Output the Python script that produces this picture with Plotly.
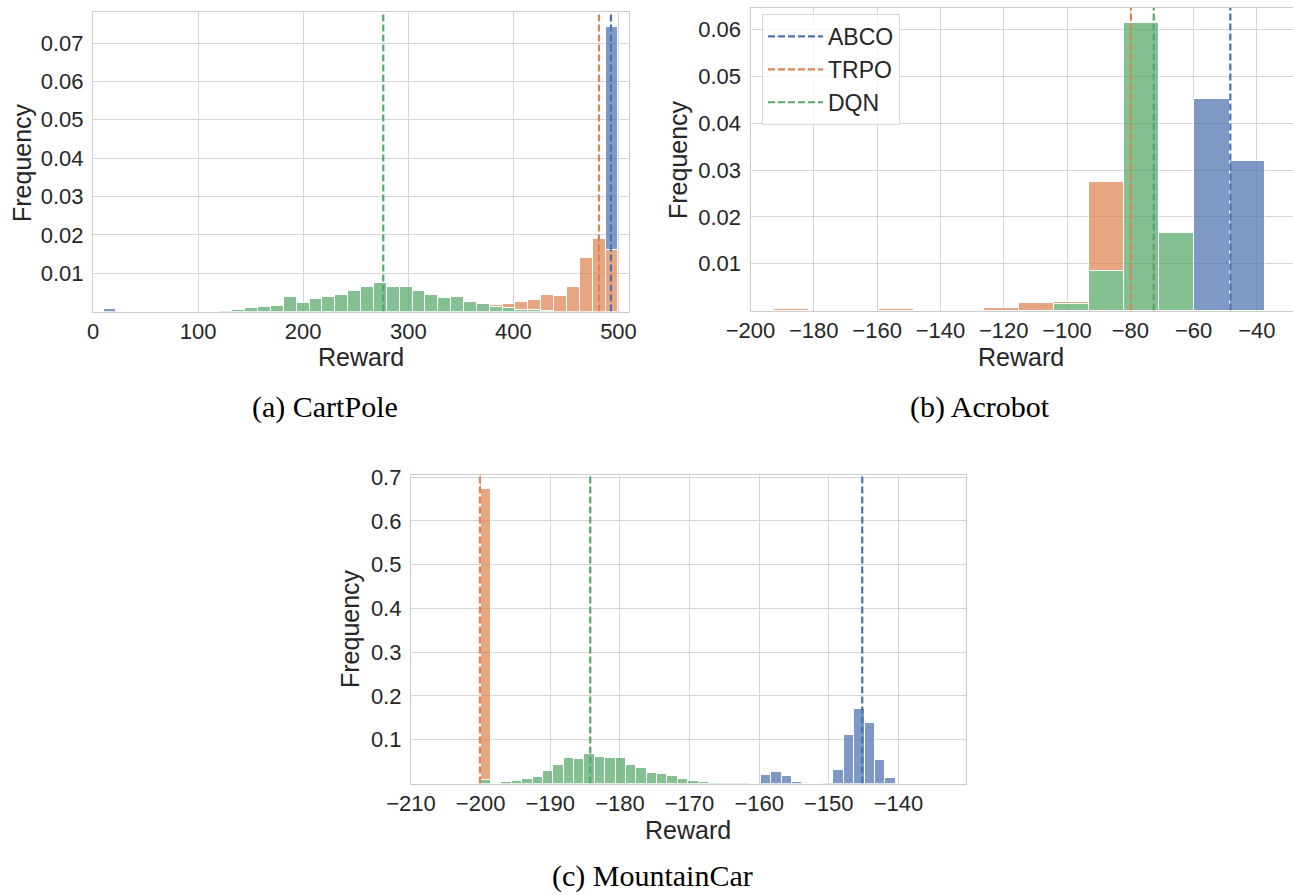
import plotly.graph_objects as go

W, H = 1293, 895

# ---------------- data ----------------
methods = ["ABCO", "TRPO", "DQN"]
line_colors = {"ABCO": "#4c72b0", "TRPO": "#dd8452", "DQN": "#55a868"}
bar_colors = {"ABCO": "rgba(76,114,176,0.72)", "TRPO": "rgba(221,132,82,0.72)",
              "DQN": "rgba(85,168,104,0.72)"}

# CartPole: 40 bins, left edge 10, width 12.25
cp_bin_start, cp_bin_width = 10.0, 12.25
cp_dqn = [0, 0, 0, 0, 0, 0, 0, 0, 0, 0.0001,
          0.0005, 0.0009, 0.0013, 0.0014, 0.0037, 0.0021, 0.0032, 0.0037, 0.0043, 0.0053,
          0.0065, 0.0075, 0.0063, 0.0063, 0.0053, 0.0042, 0.0035, 0.0039, 0.0026, 0.0020,
          0.0012, 0.0008, 0.0004, 0.0004, 0.0001, 0, 0, 0, 0, 0]
cp_trpo = [0] * 29 + [0.0002, 0.0006, 0.0011, 0.0021, 0.0025, 0.0041, 0.0041, 0.0065,
                      0.0139, 0.0190, 0.0160]
cp_abco = [0.0007] + [0] * 38 + [0.0583]
cp_means = {"ABCO": 492.8, "TRPO": 481.4, "DQN": 276.2}

# Acrobot: 15 bins, left edge -203.8, width 11.07
ac_bin_start, ac_bin_width = -203.8, 11.07
ac_dqn = [0, 0, 0, 0, 0, 0, 0, 0, 0, 0.0016, 0.0085, 0.0615, 0.0167, 0, 0]
ac_trpo = [0.0002, 0.0004, 0, 0, 0.0004, 0, 0.0002, 0.0007, 0.0017, 0.0004, 0.0190, 0, 0, 0, 0]
ac_abco = [0, 0, 0, 0, 0, 0, 0, 0, 0, 0, 0, 0, 0, 0.0452, 0.0321]
ac_means = {"ABCO": -48.4, "TRPO": -79.8, "DQN": -72.6}

# MountainCar: 40 bins, left edge -200, width 1.49
mc_bin_start, mc_bin_width = -200.0, 1.49
mc_dqn = [0.009, 0, 0.0023, 0.0053, 0.0098, 0.016, 0.028, 0.0417, 0.058, 0.057,
          0.068, 0.061, 0.059, 0.059, 0.043, 0.0356, 0.0235, 0.021, 0.0174, 0.0098,
          0.0053, 0.003, 0.002, 0.0015, 0.001, 0.0005, 0, 0, 0, 0,
          0, 0, 0, 0, 0, 0, 0, 0, 0, 0]
mc_trpo = [0.663] + [0] * 39
mc_abco = [0] * 27 + [0.0205, 0.0265, 0.0174, 0.003, 0, 0, 0.001, 0.031, 0.1106,
                      0.171, 0.138, 0.053, 0.0136]
mc_means = {"ABCO": -145.2, "TRPO": -200.1, "DQN": -184.26}

cp_xticks = [0, 100, 200, 300, 400, 500]
cp_yticks = [0.01, 0.02, 0.03, 0.04, 0.05, 0.06, 0.07]
ac_xticks = [-200, -180, -160, -140, -120, -100, -80, -60, -40]
ac_yticks = [0.01, 0.02, 0.03, 0.04, 0.05, 0.06]
mc_xticks = [-210, -200, -190, -180, -170, -160, -150, -140]
mc_yticks = [0.1, 0.2, 0.3, 0.4, 0.5, 0.6, 0.7]

captions = ["(a) CartPole", "(b) Acrobot", "(c) MountainCar"]

# ---------------- layout helpers ----------------
def px(xp):
    return xp / W

def py(yp):
    return 1 - yp / H

panels = [
    dict(name="1", dom_x=(93, 629), dom_y=(12, 311.5), xr=[0, 510], yr=[0, 0.0781],
         start=cp_bin_start, width=cp_bin_width,
         series={"DQN": cp_dqn, "TRPO": cp_trpo, "ABCO": cp_abco}, means=cp_means,
         xt=cp_xticks, yt=cp_yticks, yfmt="{:.2f}",
         reward=(361, 357), freq=(22, 163), cap=(325, 407), captext=captions[0]),
    dict(name="2", dom_x=(750.5, 1293), dom_y=(7.5, 310.5), xr=[-200, -28.6], yr=[0, 0.0647],
         start=ac_bin_start, width=ac_bin_width,
         series={"DQN": ac_dqn, "TRPO": ac_trpo, "ABCO": ac_abco}, means=ac_means,
         xt=ac_xticks, yt=ac_yticks, yfmt="{:.2f}",
         reward=(1021, 357), freq=(678, 160), cap=(980, 407), captext=captions[1]),
    dict(name="3", dom_x=(411, 966), dom_y=(475, 783.5), xr=[-210, -130.3], yr=[0, 0.705],
         start=mc_bin_start, width=mc_bin_width,
         series={"DQN": mc_dqn, "TRPO": mc_trpo, "ABCO": mc_abco}, means=mc_means,
         xt=mc_xticks, yt=mc_yticks, yfmt="{:.1f}",
         reward=(688, 830), freq=(350, 629), cap=(652, 876), captext=captions[2]),
]

TXT = "#262626"
GRID = "#d5d5d5"
FRAME = "#cccccc"
SANS = "Liberation Sans, Arial, sans-serif"
SERIF = "Liberation Serif, Times New Roman, serif"

fig = go.Figure()
annotations = []

for i, p in enumerate(panels):
    suffix = "" if p["name"] == "1" else p["name"]
    xa, ya = "x" + suffix, "y" + suffix
    n = len(p["series"]["DQN"])
    centers = [p["start"] + p["width"] * (k + 0.5) for k in range(n)]
    # stacked bars: DQN bottom, TRPO middle, ABCO top
    for m in ["DQN", "TRPO", "ABCO"]:
        vals = [v if v > 0 else None for v in p["series"][m]]
        fig.add_trace(go.Bar(
            x=centers, y=vals, width=p["width"], xaxis=xa, yaxis=ya,
            marker=dict(color=bar_colors[m], line=dict(color="white", width=1)),
            showlegend=False, hoverinfo="skip"))
    # mean lines
    for m in methods:
        mv = p["means"][m]
        fig.add_trace(go.Scatter(
            x=[mv, mv], y=[p["yr"][0], p["yr"][1]], mode="lines", xaxis=xa, yaxis=ya,
            line=dict(color=line_colors[m], width=2.2, dash="7px,3px"),
            name=m, showlegend=(p["name"] == "2"), hoverinfo="skip"))

    axis_common = dict(showgrid=True, gridcolor=GRID, gridwidth=1, zeroline=False,
                       showline=True, linecolor=FRAME, linewidth=1.25, mirror=True,
                       ticks="", automargin=False,
                       tickfont=dict(family=SANS, size=22, color=TXT))
    fig.update_layout(**{
        "xaxis" + suffix: dict(axis_common, domain=[px(p["dom_x"][0]), px(p["dom_x"][1])],
                               range=p["xr"], anchor=ya, tickmode="array",
                               tickvals=p["xt"],
                               ticktext=[("{:g}".format(v)).replace("-", "\u2212") for v in p["xt"]],
                               ticklabelstandoff=0),
        "yaxis" + suffix: dict(axis_common, domain=[py(p["dom_y"][1]), py(p["dom_y"][0])],
                               range=p["yr"], anchor=xa, tickmode="array",
                               tickvals=p["yt"], ticktext=[p["yfmt"].format(v) for v in p["yt"]],
                               ticklabelstandoff=4),
    })
    annotations.append(dict(text="Reward", x=px(p["reward"][0]), y=py(p["reward"][1]),
                            xref="paper", yref="paper", showarrow=False,
                            xanchor="center", yanchor="middle",
                            font=dict(family=SANS, size=25, color=TXT)))
    annotations.append(dict(text="Frequency", x=px(p["freq"][0]), y=py(p["freq"][1]),
                            xref="paper", yref="paper", showarrow=False, textangle=-90,
                            xanchor="center", yanchor="middle",
                            font=dict(family=SANS, size=25, color=TXT)))
    annotations.append(dict(text=p["captext"], x=px(p["cap"][0]), y=py(p["cap"][1]),
                            xref="paper", yref="paper", showarrow=False,
                            xanchor="center", yanchor="middle",
                            font=dict(family=SERIF, size=30, color="#000000")))

fig.update_layout(
    width=W, height=H, margin=dict(l=0, r=0, t=0, b=0, autoexpand=False),
    paper_bgcolor="white", plot_bgcolor="white",
    barmode="stack", bargap=0,
    annotations=annotations,
    legend=dict(x=px(762), y=py(14), xanchor="left", yanchor="top",
                bgcolor="rgba(255,255,255,0.8)", bordercolor="#d9d9d9", borderwidth=1,
                font=dict(family=SANS, size=23, color=TXT), traceorder="normal",
                itemwidth=55),
)

fig.write_html("out.html", config={"displayModeBar": False},
               post_script="document.body.style.margin='0';document.body.style.overflow='hidden';")
